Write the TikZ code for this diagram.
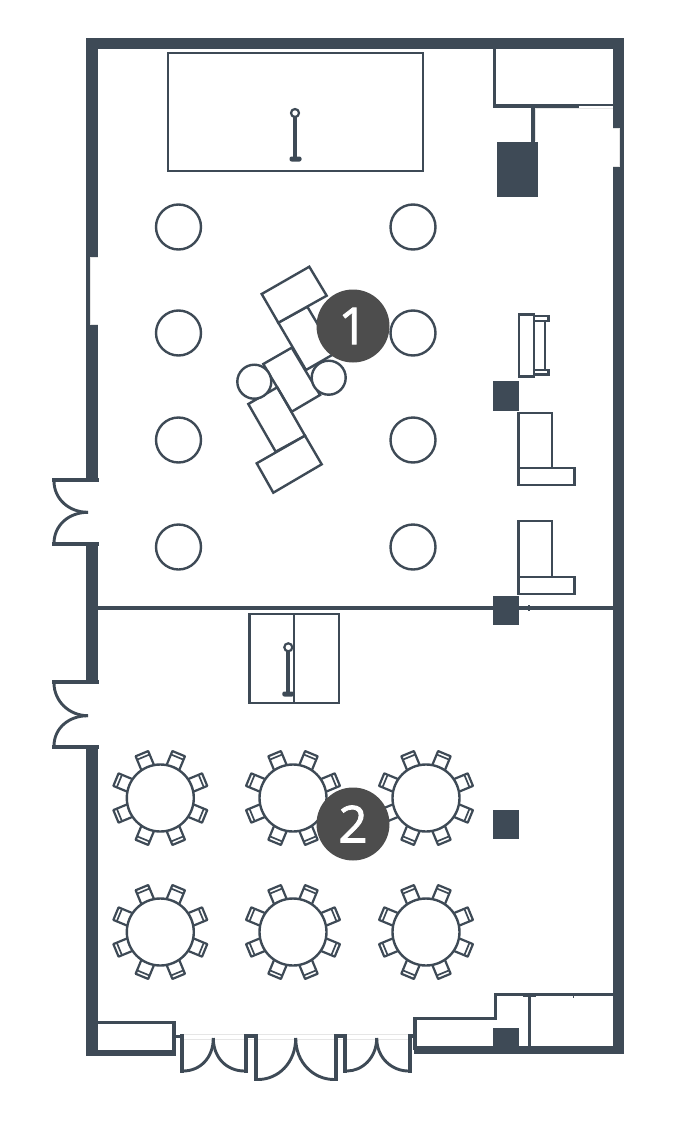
\documentclass[tikz,border=0pt]{standalone}
\usepackage{fontspec}
\setmainfont{Open Sans}
\newfontfamily\badgefont[FakeBold=1.6]{Open Sans}
\definecolor{wallc}{HTML}{3E4A56}
\definecolor{badgec}{HTML}{4D4D4D}
\definecolor{faint}{HTML}{E6E6E6}
\tikzset{
  wall/.style={fill=wallc,draw=none},
  thing/.style={draw=wallc,line width=2.4pt},
  thingfill/.style={draw=wallc,line width=2.4pt,fill=white},
  doorline/.style={draw=wallc,line width=2.9pt},
  jamb/.style={draw=wallc,line width=4pt},
  faintline/.style={draw=faint,line width=1pt},
  badge/.style={circle,fill=badgec,minimum size=73pt,inner sep=0pt,text=white,font=\badgefont\fontsize{51}{51}\selectfont},
  roundtable/.pic={
    \foreach \a in {22.5,67.5,...,337.5}{
      \begin{scope}[rotate=\a]
        \draw[draw=wallc,line width=2.2pt,fill=white,line join=round] (32,-6.8) -- (48,-6.8) -- (48,6.8) -- (32,6.8) -- cycle;
        \draw[draw=wallc,line width=1.7pt] (44.3,-6.8) -- (44.3,6.8);
      \end{scope}
    }
    \draw[thingfill] (0,0) circle (33.5);
  }
}
\begin{document}
\begin{tikzpicture}[x=1pt,y=-1pt]
\useasboundingbox (0,0) rectangle (700,1140);
% outer walls
\fill[wall] (86,38) rectangle (624,49);
\fill[wall] (613,38) rectangle (624,1054);
\fill[wall] (86,38) rectangle (98,480);
\fill[wall] (86,544) rectangle (98,683);
\fill[wall] (86,747) rectangle (98,1056);
\fill[wall] (86,1050) rectangle (175.5,1056);
\fill[wall] (414,1046) rectangle (624,1054);
% windows
\fill[white] (90.5,257) rectangle (98,324);
\draw[faint,line width=.8pt] (98,257) -- (90.5,257) -- (90.5,324) -- (98,324);
\fill[white] (613,128.5) rectangle (619,166);
\draw[faint,line width=.8pt] (613,128.5) -- (619,128.5) -- (619,166) -- (613,166);
% partition
\fill[wall] (98,606.3) rectangle (613,610.3);
\fill[wall] (527.8,605.3) rectangle (530.4,611.3);
% upper right closet
\fill[wall] (492.6,49) rectangle (496.4,108);
\fill[wall] (492.6,104.3) rectangle (579,108);
\fill[wall] (579,104.3) rectangle (613,106.2);
\draw[faint,line width=.8pt] (536,108.5) -- (613,108.5);
\draw[faint,line width=.8pt] (535.5,108) -- (535.5,141);
\fill[wall] (531,106) rectangle (534.6,142);
\fill[wall] (497,141.7) rectangle (538,197.3);
% stage
\draw[thing] (168,53) rectangle (423,171);
\fill[wall] (293,116) rectangle (297,159);
\fill[wall,rounded corners=2pt] (289.5,156.5) rectangle (301.5,161.5);
\draw[draw=wallc,line width=2.2pt,fill=white] (295,113) circle (4);
% tables upper room
\foreach \px/\py [count=\i] in {178.5/227,413/227,178.5/333,413/333,178.5/440,413/440,178.5/547,413/547}{
  \draw[thing] (\px,\py) circle (22.5);
}
% centre furniture
\draw[thing] (278.3,322.7) -- (307.3,306.7) -- (335,353.3) -- (306,370) -- cycle;
\draw[thing] (263.3,364) -- (291.7,347.7) -- (320,395) -- (291.7,411.7) -- cycle;
\draw[thing] (248.3,404) -- (277.3,387.3) -- (305,435.7) -- (275.7,451.7) -- cycle;
\draw[thingfill] (261.7,294) -- (309.3,266.7) -- (326.7,295.7) -- (278.3,322.7) -- cycle;
\draw[thingfill] (256.7,463.3) -- (305,435.7) -- (321.7,464.3) -- (273.3,492.7) -- cycle;
\draw[thingfill] (254.3,381.7) circle (17);
\draw[thingfill] (328.7,377.7) circle (17);
% right furniture
\draw[thing] (518.7,314.3) rectangle (534,376.3);
\draw[thing] (534,315.7) rectangle (548.3,320.7);
\draw[thing] (534,369.7) rectangle (548.3,374.3);
\draw[thing] (545,320.7) -- (545,369.7);
\fill[wall] (492.7,381) rectangle (518.7,410.7);
\draw[thing] (518.3,412.7) rectangle (551.7,468);
\draw[thing] (518.3,468) rectangle (574.3,485);
\draw[thing] (518.3,521) rectangle (551.7,576.7);
\draw[thing] (518.3,576.7) rectangle (574.3,594);
\fill[wall] (492.7,595.7) rectangle (518.7,625);
\fill[wall] (492.7,810) rectangle (518.7,839);
% double screen lower room
\draw[thing] (249.3,614) rectangle (339,702.7);
\draw[thing] (294,614) -- (294,702.7);
\fill[wall] (286,650) rectangle (290.4,696);
\fill[wall,rounded corners=2pt] (282.3,691.5) rectangle (294,696.5);
\draw[draw=wallc,line width=2.2pt,fill=white] (288.3,647.3) circle (4);
% banquet tables
\foreach \tx/\ty in {160.3/798,293/798,426/798,160.3/932,293/932,426/932}{
  \pic at (\tx,\ty) {roundtable};
}
% left doors
\draw[jamb] (52,480) -- (98.5,480);
\draw[jamb] (52,544.3) -- (98.5,544.3);
\draw[doorline] (54,481) .. controls (54,499) and (69,512.3) .. (88,512.3);
\draw[doorline] (54,543.5) .. controls (54,525) and (69,512.3) .. (88,512.3);
\draw[jamb] (52,682) -- (98.5,682);
\draw[jamb] (52,747) -- (98.5,747);
\draw[doorline] (54,683) .. controls (54,701) and (69,715.7) .. (88,715.7);
\draw[doorline] (54,746) .. controls (54,728) and (69,715.7) .. (88,715.7);
% bottom closets
\fill[wall] (98,1021.3) rectangle (175.5,1024.3);
\fill[wall] (172.4,1021.3) rectangle (175.5,1056);
\fill[wall] (175.5,1034.5) rectangle (183,1038.3);
% bottom doors
\draw[faintline] (183,1034.5) -- (410,1034.5);
\draw[faintline] (183,1039) -- (410,1039);
\fill[wall] (179.8,1034) rectangle (184,1072.5);
\fill[wall] (244,1034) rectangle (248,1072.5);
\fill[wall] (248,1034) rectangle (254,1037.8);
\fill[wall] (254,1034) rectangle (258,1081);
\fill[wall] (334,1034) rectangle (338,1081);
\fill[wall] (338,1034) rectangle (343,1037.8);
\fill[wall] (343,1034) rectangle (347,1072.5);
\fill[wall] (408.3,1034) rectangle (411.7,1072.5);
\fill[wall] (411.7,1034) rectangle (415,1037.8);
\draw[doorline] (183,1071) .. controls (200,1071) and (213.3,1058) .. (213.3,1038);
\draw[doorline] (244.5,1071) .. controls (227,1071) and (213.3,1058) .. (213.3,1038);
\draw[doorline] (258,1079.5) .. controls (278,1079.5) and (295.7,1063) .. (295.7,1038);
\draw[doorline] (334,1079.5) .. controls (314,1079.5) and (295.7,1063) .. (295.7,1038);
\draw[doorline] (347,1071) .. controls (362,1071) and (376.7,1058) .. (376.7,1038);
\draw[doorline] (408.5,1071) .. controls (392,1071) and (376.7,1058) .. (376.7,1038);
% lower right rooms
\fill[wall] (413.3,1016.5) rectangle (417.3,1050);
\fill[wall] (413.3,1016.5) rectangle (497,1020.3);
\fill[wall] (493.5,994) rectangle (497,1020);
\fill[wall] (493.5,993.2) rectangle (613,995.6);
\fill[wall] (522.7,995) rectangle (536,997.4);
\fill[wall] (528.2,995) rectangle (530.8,1046);
\fill[wall] (572.6,995) rectangle (573.6,998);
\fill[wall] (493,1027.7) rectangle (519,1046);
% badges
\node[badge] (one) at (353,326) {1};
\node[badge] (two) at (353,824) {2};
\end{tikzpicture}
\end{document}
